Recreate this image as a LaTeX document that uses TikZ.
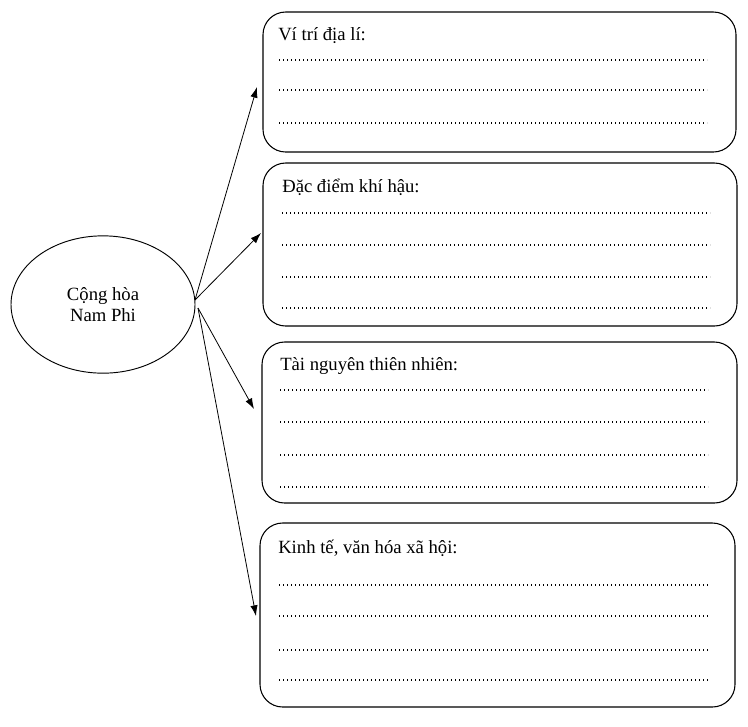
\documentclass[tikz,border=0pt]{standalone}
\usepackage{fontspec}
\setmainfont{Liberation Serif}
\usetikzlibrary{positioning,shapes,arrows.meta}

\tikzset{
  infobox/.style={draw, rounded corners=17pt, line width=0.8pt, inner sep=0pt},
  dotline/.style={line width=1.1pt, dash pattern=on 1.1pt off 1.9pt},
  conn/.style={-{Latex[length=8pt,width=5.5pt]}, line width=0.6pt}
}

\begin{document}
\begin{tikzpicture}[x=0.75pt, y=-0.75pt, font=\fontsize{14pt}{16pt}\selectfont]
  \useasboundingbox (0,0) rectangle (748,726);
  % country in the middle
  \node[draw, ellipse, line width=0.7pt, minimum width=138pt, minimum height=103pt, align=center] (country) at (103,304.5) {Cộng hòa\\Nam Phi};

  % the four boxes
  \node[infobox, minimum width=354.75pt, minimum height=105pt] (vitri) at (499.5,82) {};
  \node[infobox, minimum width=355.5pt, minimum height=122.25pt] (khihau) at (500,244.5) {};
  \node[infobox, minimum width=356.25pt, minimum height=120.75pt] (tainguyen) at (499.5,422.5) {};
  \node[infobox, minimum width=356.25pt, minimum height=138pt] (kinhte) at (497.5,615) {};

  \node[anchor=base west, inner sep=0pt] (t1) at (278,40) {Ví trí địa lí:};
  \node[anchor=base west, inner sep=0pt] (t2) at (282,192) {Đặc điểm khí hậu:};
  \node[anchor=base west, inner sep=0pt] (t3) at (280,370) {Tài nguyên thiên nhiên:};
  \node[anchor=base west, inner sep=0pt] (t4) at (278,553) {Kinh tế, văn hóa xã hội:};

  \foreach \y in {60,90,123} \draw[dotline] (279,\y) -- (707,\y);
  \foreach \y in {213,245,277,308} \draw[dotline] (282,\y) -- (710,\y);
  \foreach \y in {390,422,455,487} \draw[dotline] (280,\y) -- (708,\y);
  \foreach \y in {585,616,650,680} \draw[dotline] (279,\y) -- (708,\y);

  % arrows
  \coordinate (up) at (195,300);
  \coordinate (down) at (198,308);
  \coordinate (e1) at (257,87);
  \coordinate (e2) at (261,233);
  \coordinate (e3) at (254,409);
  \coordinate (e4) at (256,616);
  \draw[conn] (up) -- (e1);
  \draw[conn] (up) -- (e2);
  \draw[conn] (down) -- (e3);
  \draw[conn] (down) -- (e4);
\end{tikzpicture}
\end{document}
